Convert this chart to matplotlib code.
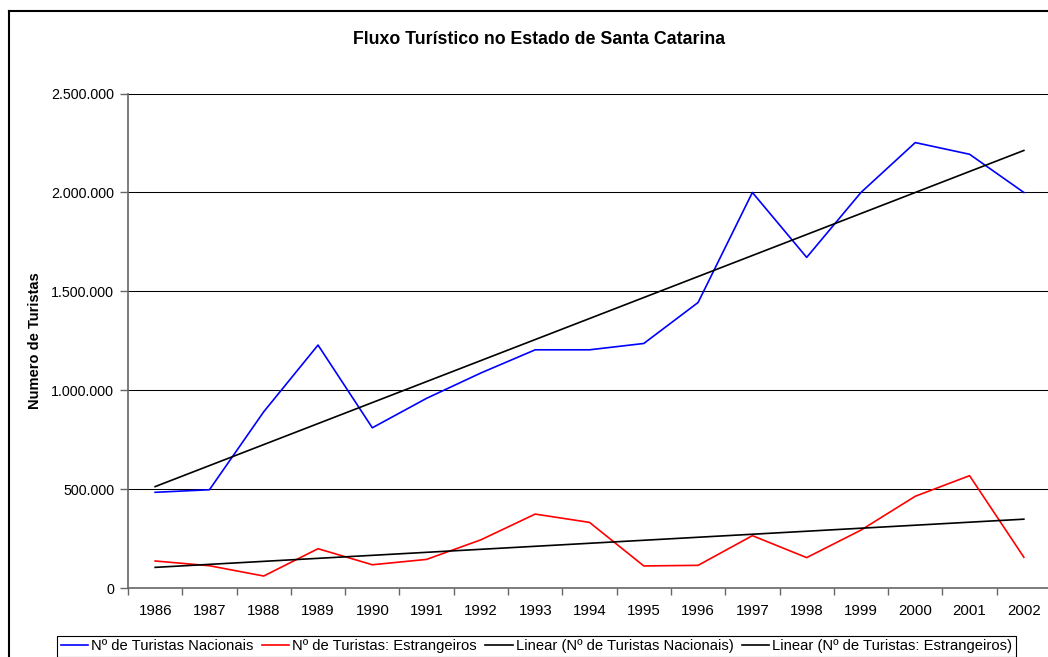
import numpy as np
import matplotlib
matplotlib.use("Agg")
import matplotlib.pyplot as plt
from matplotlib.lines import Line2D
from matplotlib.ticker import FuncFormatter, FixedLocator

plt.rcParams['font.family'] = ['Liberation Sans', 'DejaVu Sans']

anos = ['1986', '1987', '1988', '1989', '1990', '1991', '1992', '1993', '1994',
        '1995', '1996', '1997', '1998', '1999', '2000', '2001', '2002']
nacionais = [485000, 498000, 892000, 1229000, 811000, 960000, 1088000, 1205000, 1205000,
             1237000, 1444000, 2000000, 1672000, 2000000, 2252000, 2193000, 2000000]
estrangeiros = [138000, 114000, 62000, 200000, 119000, 146000, 245000, 375000, 333000,
                113000, 116000, 266000, 155000, 294000, 465000, 569000, 157000]

titulo = 'Fluxo Turístico no Estado de Santa Catarina'
rotulo_y = 'Numero de Turistas'
legendas = ['Nº de Turistas Nacionais', 'Nº de Turistas: Estrangeiros',
            'Linear (Nº de Turistas Nacionais)', 'Linear (Nº de Turistas: Estrangeiros)']

W, H = 1048, 657
fig = plt.figure(figsize=(W / 100, H / 100), dpi=100)

# plot area in pixels (right edge runs off the picture)
left, right, top, bottom = 128, 1051, 93.5, 588.3
ax = fig.add_axes([left / W, 1 - bottom / H, (right - left) / W, (bottom - top) / H])

x = np.arange(len(anos))
l1, = ax.plot(x, nacionais, color='#0000ff', lw=1.2)
l2, = ax.plot(x, estrangeiros, color='#ff0000', lw=1.2)

# linhas de tendencia (ajuste linear)
a, b = np.polyfit(x, nacionais, 1)
l3, = ax.plot(x, a * x + b, color='black', lw=1.2)
a, b = np.polyfit(x, estrangeiros, 1)
l4, = ax.plot(x, a * x + b, color='black', lw=1.2)

ax.set_xlim(-0.5, len(anos) - 0.5)
ax.set_ylim(0, 2500000)
ax.set_yticks(np.arange(0, 2500001, 500000))
ax.yaxis.set_major_formatter(FuncFormatter(lambda v, p: f"{int(v):,}".replace(',', '.')))
ax.set_xticks(x)
ax.set_xticklabels(anos)
ax.xaxis.set_minor_locator(FixedLocator(np.arange(-0.5, len(anos), 1)))

ax.grid(axis='y', color='black', lw=0.75)
ax.set_axisbelow(True)
for s in ['top', 'right']:
    ax.spines[s].set_visible(False)
for s in ['left', 'bottom']:
    ax.spines[s].set_color('#666666')
    ax.spines[s].set_linewidth(1.2)

ax.tick_params(axis='y', length=6, width=1, color='#666666', labelsize=10.3, pad=4)
ax.tick_params(axis='x', which='major', length=0, labelsize=10.8, pad=11)
ax.tick_params(axis='x', which='minor', length=5, width=1, color='#666666')

fig.text(539 / W, 1 - 40 / H, titulo, ha='center', va='center', fontsize=12.8, fontweight='bold')
fig.text(35 / W, 1 - 341 / H, rotulo_y, ha='center', va='center', rotation=90,
         fontsize=10.5, fontweight='bold')

leg = fig.legend([l1, l2, l3, l4], legendas, loc='upper left',
                 bbox_to_anchor=(57 / W, 1 - 635.7 / H), ncol=4, fontsize=10.6,
                 frameon=True, fancybox=False, edgecolor='black', framealpha=1,
                 borderpad=0.25, handlelength=1.85, handletextpad=0.2,
                 columnspacing=0.59, borderaxespad=0)
leg.get_frame().set_linewidth(0.8)

# moldura externa do grafico
fig.add_artist(Line2D([9 / W, 9 / W], [0, 1 - 11 / H], transform=fig.transFigure,
                      color='black', lw=1.5))
fig.add_artist(Line2D([9 / W, 1], [1 - 11 / H, 1 - 11 / H], transform=fig.transFigure,
                      color='black', lw=1.5))

fig.savefig('out.png', dpi=100)
